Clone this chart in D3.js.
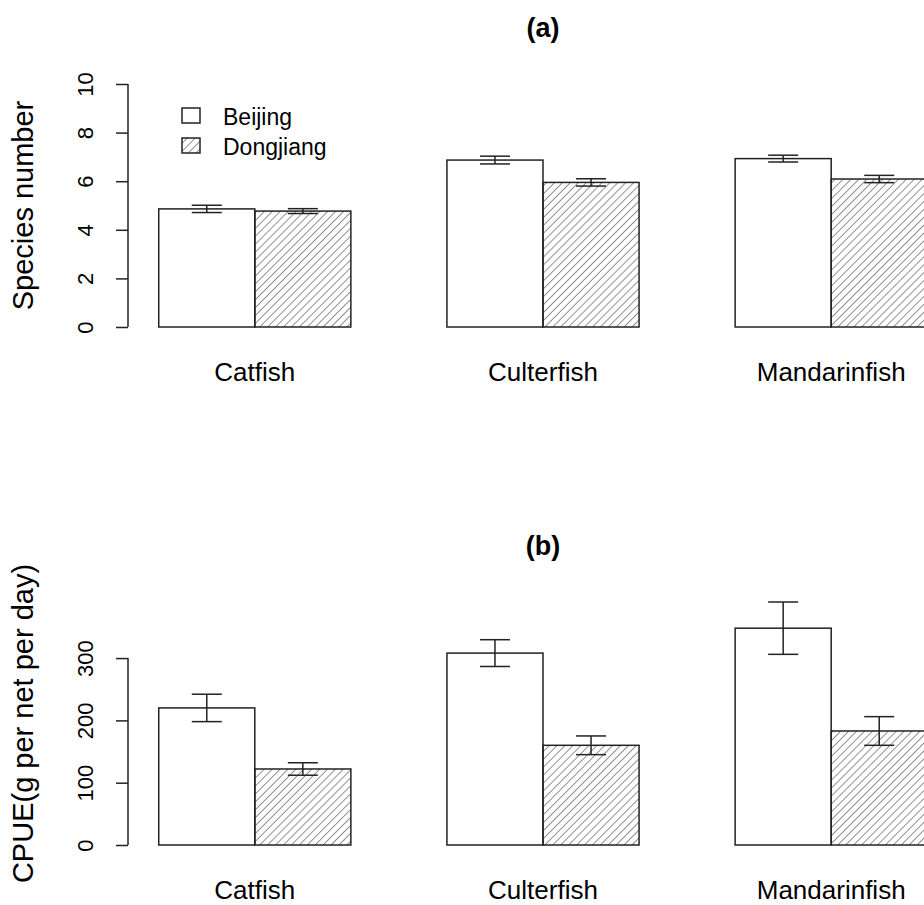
<!DOCTYPE html>
<html>
<head>
<meta charset="utf-8">
<title>Species number and CPUE</title>
<script src="https://d3js.org/d3.v7.min.js"></script>
<style>
  body { margin: 0; background: #fff; overflow: hidden; }
  text { font-family: "Liberation Sans", Arial, sans-serif; fill: #000; }
</style>
</head>
<body>
<div id="chart"></div>
<script>
// data
const categories = ["Catfish", "Culterfish", "Mandarinfish"];
const sites = ["Beijing", "Dongjiang"];

const speciesBeijing = [4.86, 6.87, 6.93];
const speciesBeijingSe = [0.15, 0.16, 0.14];
const speciesDongjiang = [4.77, 5.95, 6.09];
const speciesDongjiangSe = [0.10, 0.15, 0.15];

const cpueBeijing = [220, 308, 348];
const cpueBeijingSe = [22, 21.5, 42];
const cpueDongjiang = [122, 160, 183];
const cpueDongjiangSe = [10, 15, 23];

const speciesTicks = [0, 2, 4, 6, 8, 10];
const cpueTicks = [0, 100, 200, 300];

const W = 924, H = 905;
const ink = "#222";
const svg = d3.select("#chart").append("svg")
    .attr("width", W).attr("height", H);

// hatch pattern for Dongjiang
svg.append("defs").append("pattern")
    .attr("id", "hatch")
    .attr("patternUnits", "userSpaceOnUse")
    .attr("width", 5.6).attr("height", 10)
    .attr("patternTransform", "rotate(45)")
  .append("line")
    .attr("x1", 0).attr("y1", 0).attr("x2", 0).attr("y2", 10)
    .attr("stroke", ink).attr("stroke-width", 1);

// bar positions in R barplot units (space = c(0,1))
const x = d3.scaleLinear().domain([0.68, 9.32]).range([128, 958]);
const barLeft = (gi, si) => 1 + gi * 3 + si;

function panel(top, title, ylab, ticks, yMax, series) {
  const g = svg.append("g").attr("transform", `translate(0,${top})`);
  const y = d3.scaleLinear().domain([0, yMax]).range([327, 84]);

  g.append("text").attr("x", 543).attr("y", 37)
    .attr("text-anchor", "middle").style("font-size", "27px").style("font-weight", "bold")
    .text(title);

  // y axis
  const ax = g.append("g").attr("transform", "translate(128,0)")
    .call(d3.axisLeft(y).tickValues(ticks).tickSize(12).tickSizeOuter(0));
  ax.select(".domain").remove();
  ax.selectAll(".tick line").attr("stroke", ink).attr("stroke-width", 1.5);
  ax.selectAll(".tick text")
    .attr("x", null).attr("dy", null)
    .attr("transform", "translate(-35,0) rotate(-90)")
    .attr("text-anchor", "middle")
    .style("font-size", "22px").style("font-family", "Liberation Sans, Arial, sans-serif")
    .attr("fill", "#000");
  g.append("line")
    .attr("x1", 128).attr("x2", 128)
    .attr("y1", y(ticks[0])).attr("y2", y(ticks[ticks.length - 1]))
    .attr("stroke", ink).attr("stroke-width", 1.5);

  g.append("text")
    .attr("transform", `translate(33,${(y(0) + y(yMax)) / 2}) rotate(-90)`)
    .attr("text-anchor", "middle").style("font-size", "29px")
    .text(ylab);

  // bars
  series.forEach((s, si) => {
    s.mean.forEach((v, gi) => {
      const x0 = x(barLeft(gi, si)), x1 = x(barLeft(gi, si) + 1);
      g.append("rect")
        .attr("x", x0).attr("y", y(v))
        .attr("width", x1 - x0).attr("height", y(0) - y(v))
        .attr("fill", si === 0 ? "#fff" : "url(#hatch)")
        .attr("stroke", ink).attr("stroke-width", 1.5);
    });
  });
  // error bars
  series.forEach((s, si) => {
    s.mean.forEach((v, gi) => {
      const cx = x(barLeft(gi, si) + 0.5);
      const lo = y(v - s.se[gi]), hi = y(v + s.se[gi]);
      const eb = g.append("g").attr("stroke", ink).attr("stroke-width", 1.5);
      eb.append("line").attr("x1", cx).attr("x2", cx).attr("y1", lo).attr("y2", hi);
      eb.append("line").attr("x1", cx - 15).attr("x2", cx + 15).attr("y1", lo).attr("y2", lo);
      eb.append("line").attr("x1", cx - 15).attr("x2", cx + 15).attr("y1", hi).attr("y2", hi);
    });
  });

  // category names
  categories.forEach((c, gi) => {
    g.append("text").attr("x", x(barLeft(gi, 0) + 1)).attr("y", 381)
      .attr("text-anchor", "middle").style("font-size", "26px").text(c);
  });
  return g;
}

const pa = panel(0, "(a)", "Species number", speciesTicks, 10, [
  { mean: speciesBeijing, se: speciesBeijingSe },
  { mean: speciesDongjiang, se: speciesDongjiangSe }
]);

const cpueMax = d3.max([
  ...cpueBeijing.map((v, i) => v + cpueBeijingSe[i]),
  ...cpueDongjiang.map((v, i) => v + cpueDongjiangSe[i])
]);
panel(518, "(b)", "CPUE(g per net per day)", cpueTicks, cpueMax, [
  { mean: cpueBeijing, se: cpueBeijingSe },
  { mean: cpueDongjiang, se: cpueDongjiangSe }
]);

// legend in panel (a)
const leg = pa.append("g");
sites.forEach((s, i) => {
  leg.append("rect").attr("x", 182).attr("y", 108 + i * 30)
    .attr("width", 18).attr("height", 15)
    .attr("fill", i === 0 ? "#fff" : "url(#hatch)")
    .attr("stroke", ink).attr("stroke-width", 1.5);
  leg.append("text").attr("x", 223).attr("y", 125 + i * 30)
    .style("font-size", "23px").text(s);
});
</script>
</body>
</html>
